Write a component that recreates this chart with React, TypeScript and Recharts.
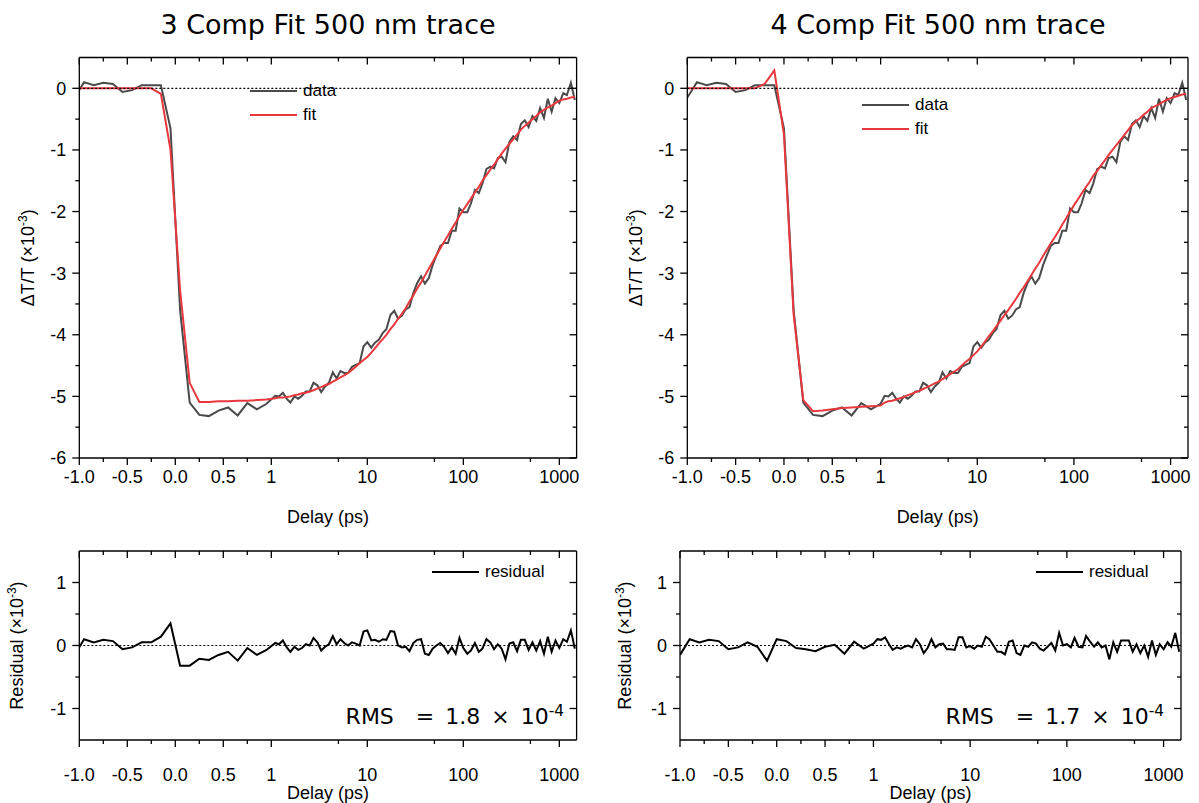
import { LineChart, Line, XAxis, YAxis, ReferenceLine, Legend } from "recharts";

const AXIS_FONT = '"Liberation Sans", Arial, sans-serif';
const TITLE_FONT = '"DejaVu Sans", Verdana, sans-serif';

// delays (ps). the 4-comp fit moved t0 by ~0.05 ps, so its early grid sits a bit later
const delayEarly3 = [-1.05, -0.95, -0.85, -0.75, -0.65, -0.55, -0.45, -0.35, -0.25, -0.15, -0.05, 0.05, 0.15, 0.25, 0.35, 0.45, 0.55, 0.65, 0.75, 0.85, 0.95];
const delayEarly4 = [-1.0, -0.9, -0.8, -0.7, -0.6, -0.5, -0.4, -0.3, -0.2, -0.1, 0.0, 0.1, 0.2, 0.3, 0.4, 0.5, 0.6, 0.7, 0.8, 0.9, 1.0];
const delayLate = [
  1.10, 1.20, 1.32, 1.45, 1.58, 1.74, 1.91, 2.09, 2.29, 2.51, 2.75, 3.02, 3.31, 3.63, 3.98, 4.37, 4.79, 5.25, 5.75, 6.31, 6.92, 7.59, 8.32, 9.12, 10.0,
  11.0, 12.0, 13.2, 14.5, 15.8, 17.4, 19.1, 20.9, 22.9, 25.1, 27.5, 30.2, 33.1, 36.3, 39.8, 43.7, 47.9, 52.5, 57.5, 63.1, 69.2, 75.9, 83.2, 91.2, 100,
  110, 120, 132, 145, 158, 174, 191, 209, 229, 251, 275, 302, 331, 363, 398, 437, 479, 525, 575, 631, 692, 759, 832, 912, 1000,
  1100, 1200, 1320, 1450,
];

// measured dT/T (x1e-3), same trace in both panels
const trace = [
  -0.15, 0.10, 0.05, 0.09, 0.07, -0.06, -0.03, 0.05, 0.05, 0.05, -0.65, -3.60, -5.10, -5.30, -5.32, -5.23, -5.18, -5.31, -5.11, -5.21, -5.12,
  -4.99, -5.00, -4.94, -5.04, -5.10, -5.00, -5.04, -4.99, -4.92, -4.92,
  -4.78, -4.82, -4.93, -4.84, -4.78, -4.61, -4.71, -4.59, -4.62, -4.62,
  -4.52, -4.49, -4.46, -4.19, -4.12, -4.21, -4.13, -4.08, -3.97, -3.91,
  -3.68, -3.61, -3.74, -3.69, -3.59, -3.55, -3.32, -3.16, -3.05, -3.17,
  -3.08, -2.87, -2.71, -2.56, -2.51, -2.51, -2.31, -2.31, -1.95, -2.01,
  -2.01, -1.87, -1.65, -1.70, -1.55, -1.31, -1.27, -1.30, -1.13, -1.11,
  -1.20, -0.87, -0.78, -0.84, -0.58, -0.52, -0.63, -0.45, -0.53, -0.32,
  -0.48, -0.17, -0.38, -0.16, -0.24, -0.08, -0.11, 0.09, -0.19,
];

const fit3 = [
  0, 0, 0, 0, 0, 0, 0, 0, 0, -0.09, -1.00, -3.28, -4.78, -5.09, -5.09, -5.08, -5.08, -5.07, -5.07, -5.06, -5.05,
  -5.03, -5.02, -5.02, -5.01, -5.00, -4.98, -4.97, -4.95, -4.94, -4.92,
  -4.90, -4.87, -4.85, -4.82, -4.80, -4.76, -4.73, -4.69, -4.66, -4.62,
  -4.57, -4.52, -4.46, -4.41, -4.36, -4.29, -4.22, -4.14, -4.07, -4.00,
  -3.91, -3.83, -3.74, -3.66, -3.57, -3.46, -3.36, -3.25, -3.15, -3.04,
  -2.93, -2.82, -2.71, -2.60, -2.49, -2.39, -2.28, -2.18, -2.07, -1.97,
  -1.88, -1.79, -1.69, -1.60, -1.50, -1.41, -1.32, -1.24, -1.15, -1.06,
  -0.98, -0.90, -0.83, -0.75, -0.67, -0.61, -0.56, -0.50, -0.45, -0.39,
  -0.35, -0.31, -0.28, -0.24, -0.20, -0.18, -0.17, -0.15, -0.14,
];

const fit4 = [
  0, 0, 0, 0, 0, 0, 0, 0, 0.07, 0.29, -0.75, -3.67, -5.06, -5.24, -5.23, -5.21, -5.19, -5.18, -5.17, -5.16, -5.15,
  -5.10, -5.08, -5.07, -5.05, -5.03, -5.01, -4.98, -4.96, -4.93, -4.91,
  -4.88, -4.85, -4.82, -4.79, -4.76, -4.72, -4.68, -4.64, -4.60, -4.56,
  -4.50, -4.44, -4.39, -4.33, -4.27, -4.19, -4.11, -4.02, -3.94, -3.86,
  -3.77, -3.68, -3.60, -3.51, -3.42, -3.32, -3.23, -3.13, -3.03, -2.93,
  -2.83, -2.72, -2.62, -2.52, -2.42, -2.32, -2.21, -2.11, -2.00, -1.90,
  -1.80, -1.71, -1.61, -1.52, -1.42, -1.34, -1.25, -1.17, -1.08, -1.00,
  -0.92, -0.84, -0.76, -0.68, -0.60, -0.54, -0.49, -0.43, -0.38, -0.32,
  -0.29, -0.26, -0.22, -0.19, -0.16, -0.14, -0.12, -0.10, -0.09,
];

const resid3 = [
  -0.15, 0.10, 0.05, 0.09, 0.07, -0.06, -0.03, 0.05, 0.05, 0.14, 0.35, -0.32, -0.32, -0.21, -0.23, -0.15, -0.10, -0.24, -0.04, -0.15, -0.07,
  0.04, 0.02, 0.08, -0.03, -0.10, -0.02, -0.07, -0.04, 0.02, 0.00,
  0.12, 0.05, -0.08, -0.02, 0.02, 0.15, 0.02, 0.10, 0.04, 0.00,
  0.05, 0.03, 0.00, 0.22, 0.24, 0.08, 0.09, 0.06, 0.10, 0.09,
  0.23, 0.22, 0.00, -0.03, -0.02, -0.09, 0.04, 0.09, 0.10, -0.13,
  -0.15, -0.05, 0.00, 0.04, -0.02, -0.12, -0.03, -0.13, 0.12, -0.04,
  -0.13, -0.08, 0.04, -0.10, -0.05, 0.10, 0.05, -0.06, 0.02, -0.05,
  -0.22, 0.03, 0.05, -0.09, 0.09, 0.09, -0.07, 0.05, -0.08, 0.07,
  -0.13, 0.14, -0.10, 0.08, -0.04, 0.10, 0.06, 0.24, -0.05,
];

const resid4 = [
  -0.15, 0.10, 0.05, 0.09, 0.07, -0.06, -0.03, 0.05, -0.02, -0.24, 0.10, 0.07, -0.04, -0.06, -0.09, -0.02, 0.01, -0.13, 0.06, -0.05, 0.03,
  0.10, 0.09, 0.13, 0.02, -0.07, -0.03, -0.05, -0.02, 0.00, -0.03,
  0.10, 0.02, -0.12, -0.04, 0.10, -0.03, 0.02, 0.03, -0.06, -0.06,
  -0.07, 0.13, 0.13, -0.03, -0.01, -0.05, 0.00, -0.02, 0.14, 0.10,
  0.00, -0.10, -0.10, -0.14, 0.06, 0.08, -0.12, -0.15, 0.00, -0.02,
  0.05, 0.03, -0.05, -0.08, -0.02, 0.04, -0.08, 0.20, 0.00, 0.02,
  -0.03, 0.12, -0.02, -0.03, 0.15, 0.06, -0.02, 0.05, -0.03, 0.00,
  -0.22, 0.05, -0.10, 0.08, 0.08, 0.08, -0.10, 0.02, -0.12, 0.00,
  -0.18, 0.08, -0.15, 0.02, -0.06, 0.05, -0.02, 0.20, -0.10,
];

const xMajor = [-1, -0.5, 0, 0.5, 1, 10, 100, 1000];
const xMajorLabels = ["-1.0", "-0.5", "0.0", "0.5", "1", "10", "100", "1000"];
const xMinor = [-0.75, -0.25, 0.25, 0.75, 5, 50, 500];
const mainYMajor = [-6, -5, -4, -3, -2, -1, 0];
const mainYMinor = [-5.5, -4.5, -3.5, -2.5, -1.5, -0.5];
const resYMajor = [-1, 0, 1];
const resYMinor = [-0.5, 0.5];

// delay axis: linear from -1 to 1 ps, then one unit per decade
const toAxis = (t: number) => (t <= 1 ? t : 1 + Math.log10(t));
const X_DOMAIN: [number, number] = [-1, 4.18];
const xMajorAxis = xMajor.map(toAxis);
const xTicks = [...xMajor, ...xMinor].map(toAxis).sort((a, b) => a - b);

const rows3 = [...delayEarly3, ...delayLate].map((d, i) => ({ x: toAxis(d), data: trace[i], fit: fit3[i], residual: resid3[i] }));
const rows4 = [...delayEarly4, ...delayLate].map((d, i) => ({ x: toAxis(d), data: trace[i], fit: fit4[i], residual: resid4[i] }));

const near = (list: number[], v: number) => list.findIndex((m) => Math.abs(m - v) < 1e-6);
const tickLen = (u: number) => (near(xMajorAxis, u) >= 0 ? 7 : 4);

const makeXTick = (labelDy: number) => (props: any) => {
  const { x, y, payload } = props;
  const i = near(xMajorAxis, payload.value);
  return (
    <g>
      <line x1={x} y1={y} x2={x} y2={y + tickLen(payload.value)} stroke="#000" strokeWidth={1.3} />
      {i >= 0 && (
        <text x={x} y={y + labelDy} textAnchor="middle" fontFamily={AXIS_FONT} fontSize={18} fill="#000">
          {xMajorLabels[i]}
        </text>
      )}
    </g>
  );
};

const makeYTick = (majors: number[], showLabel: boolean) => (props: any) => {
  const { x, y, payload } = props;
  const isMajor = near(majors, payload.value) >= 0;
  const len = isMajor ? 7 : 4;
  return (
    <g>
      <line x1={x} y1={y} x2={x - len} y2={y} stroke="#000" strokeWidth={1.3} />
      {showLabel && isMajor && (
        <text x={x - len - 6} y={y} dy="0.36em" textAnchor="end" fontFamily={AXIS_FONT} fontSize={18} fill="#000">
          {payload.value}
        </text>
      )}
    </g>
  );
};

const LegendBox = ({ payload }: any) => (
  <div style={{ fontFamily: AXIS_FONT, fontSize: 17, color: "#000" }}>
    {(payload || []).map((p: any) => (
      <div key={p.value} style={{ display: "flex", alignItems: "center", height: 24 }}>
        <span style={{ display: "inline-block", width: 47, borderTop: `2px solid ${p.color}`, marginRight: 6 }} />
        <span>{p.value}</span>
      </div>
    ))}
  </div>
);

type Box = { left: number; top: number; width: number; height: number };
type Plot = { left: number; right: number; top: number; bottom: number };

interface PanelProps {
  box: Box;
  plot: Plot;
  rows: typeof rows3;
  kind: "main" | "residual";
  yTitleX: number;
  xLabelDy: number;
  xTitleY: number;
  legendAt: [number, number];
}

function Panel({ box, plot, rows, kind, yTitleX, xLabelDy, xTitleY, legendAt }: PanelProps) {
  const isMain = kind === "main";
  const yDomain: [number, number] = isMain ? [-6, 0.5] : [-1.5, 1.5];
  const yMajor = isMain ? mainYMajor : resYMajor;
  const yTicks = [...yMajor, ...(isMain ? mainYMinor : resYMinor)].sort((a, b) => a - b);
  const margin = { top: plot.top - box.top, right: box.left + box.width - plot.right, bottom: 0, left: 0 };
  const cx = (plot.left + plot.right) / 2 - box.left;
  const cy = (plot.top + plot.bottom) / 2 - box.top;
  const axisLine = { stroke: "#000", strokeWidth: 1.3 };
  const yKey = isMain ? "data" : "residual";
  // same linear map the delay axis uses, for the inward ticks on the top frame
  const pxOf = (u: number) => plot.left - box.left + ((u - X_DOMAIN[0]) / (X_DOMAIN[1] - X_DOMAIN[0])) * (plot.right - plot.left);

  return (
    <div style={{ position: "absolute", left: box.left, top: box.top, width: box.width, height: box.height }}>
      <LineChart width={box.width} height={box.height} data={rows} margin={margin}>
        <XAxis
          dataKey="x"
          type="number"
          domain={X_DOMAIN}
          allowDataOverflow
          ticks={xTicks}
          interval={0}
          tickLine={false}
          tickSize={0}
          tickMargin={0}
          tick={makeXTick(xLabelDy)}
          axisLine={axisLine}
          height={box.top + box.height - plot.bottom}
          label={{
            content: () => (
              <text x={cx} y={xTitleY - box.top} textAnchor="middle" fontFamily={AXIS_FONT} fontSize={18} fill="#000">
                Delay (ps)
              </text>
            ),
          }}
        />
        <XAxis
          xAxisId="top"
          dataKey="x"
          orientation="top"
          mirror
          type="number"
          domain={X_DOMAIN}
          allowDataOverflow
          tick={false}
          tickLine={false}
          axisLine={axisLine}
        />
        <YAxis
          type="number"
          domain={yDomain}
          allowDataOverflow
          ticks={yTicks}
          interval={0}
          tickLine={false}
          tickSize={0}
          tickMargin={0}
          tick={makeYTick(yMajor, true)}
          axisLine={axisLine}
          width={plot.left - box.left}
          label={{
            content: () => (
              <text
                transform={`translate(${yTitleX - box.left},${cy}) rotate(-90)`}
                textAnchor="middle"
                fontFamily={AXIS_FONT}
                fontSize={18}
                fill="#000"
              >
                {isMain ? "ΔT/T (×10" : "Residual (×10"}
                <tspan dy={-7} fontSize={12}>-3</tspan>
                <tspan dy={7}>)</tspan>
              </text>
            ),
          }}
        />
        <YAxis
          yAxisId="right"
          dataKey={yKey}
          orientation="right"
          mirror
          type="number"
          domain={yDomain}
          allowDataOverflow
          ticks={yTicks}
          interval={0}
          tickLine={false}
          tickSize={0}
          tickMargin={0}
          tick={makeYTick(yMajor, false)}
          axisLine={axisLine}
        />
        <Legend
          layout="vertical"
          align="center"
          verticalAlign="middle"
          content={<LegendBox />}
          wrapperStyle={{ left: legendAt[0] - box.left, top: legendAt[1] - box.top - 12, width: 150 }}
        />
        {isMain ? (
          <>
            <Line type="linear" dataKey="data" name="data" stroke="#4a4a4a" strokeWidth={2} dot={false} isAnimationActive={false} />
            <Line type="linear" dataKey="fit" name="fit" stroke="#e8383d" strokeWidth={2} dot={false} isAnimationActive={false} />
          </>
        ) : (
          <Line type="linear" dataKey="residual" name="residual" stroke="#000" strokeWidth={2} dot={false} isAnimationActive={false} />
        )}
        <ReferenceLine y={0} stroke="#000" strokeWidth={1.2} strokeDasharray="2 2" />
      </LineChart>
      <svg
        width={box.width}
        height={box.height}
        style={{ position: "absolute", left: 0, top: 0, pointerEvents: "none", overflow: "visible" }}
      >
        {xTicks.map((u) => (
          <line
            key={u}
            x1={pxOf(u)}
            x2={pxOf(u)}
            y1={plot.top - box.top}
            y2={plot.top - box.top + tickLen(u)}
            stroke="#000"
            strokeWidth={1.3}
          />
        ))}
      </svg>
    </div>
  );
}

const titleStyle = { position: "absolute" as const, top: 10, lineHeight: "30px", textAlign: "center" as const, fontFamily: TITLE_FONT, fontSize: 27, color: "#000" };
const rmsStyle = { position: "absolute" as const, top: 703, lineHeight: "28px", whiteSpace: "pre" as const, textAlign: "right" as const, fontFamily: TITLE_FONT, fontSize: 22, wordSpacing: 4, color: "#000" };
const supStyle = { fontSize: "70%", position: "relative" as const, top: "-0.55em" };

export default function App() {
  return (
    <div style={{ position: "absolute", left: 0, top: 0, width: 1199, height: 803, background: "#fff", overflow: "hidden" }}>
      <div style={{ ...titleStyle, left: 0, width: 656 }}>3 Comp Fit 500 nm trace</div>
      <div style={{ ...titleStyle, left: 638, width: 600 }}>4 Comp Fit 500 nm trace</div>

      <Panel box={{ left: 0, top: 0, width: 600, height: 545 }} plot={{ left: 79.3, right: 576.6, top: 57.5, bottom: 458 }}
        rows={rows3} kind="main" yTitleX={34} xLabelDy={25} xTitleY={523} legendAt={[250, 91]} />
      <Panel box={{ left: 600, top: 0, width: 599, height: 545 }} plot={{ left: 687.3, right: 1188, top: 57.5, bottom: 458 }}
        rows={rows4} kind="main" yTitleX={642} xLabelDy={25} xTitleY={523} legendAt={[862, 105]} />
      <Panel box={{ left: 0, top: 545, width: 600, height: 258 }} plot={{ left: 79.3, right: 576.6, top: 551, bottom: 740 }}
        rows={rows3} kind="residual" yTitleX={23} xLabelDy={41} xTitleY={799} legendAt={[432, 572]} />
      <Panel box={{ left: 600, top: 545, width: 599, height: 258 }} plot={{ left: 680, right: 1181, top: 551, bottom: 740 }}
        rows={rows4} kind="residual" yTitleX={631} xLabelDy={41} xTitleY={799} legendAt={[1036, 572]} />

      <div style={{ ...rmsStyle, left: 300, width: 264 }}>
        RMS  = 1.8 × 10<span style={supStyle}>-4</span>
      </div>
      <div style={{ ...rmsStyle, left: 900, width: 264 }}>
        RMS  = 1.7 × 10<span style={supStyle}>-4</span>
      </div>
    </div>
  );
}
